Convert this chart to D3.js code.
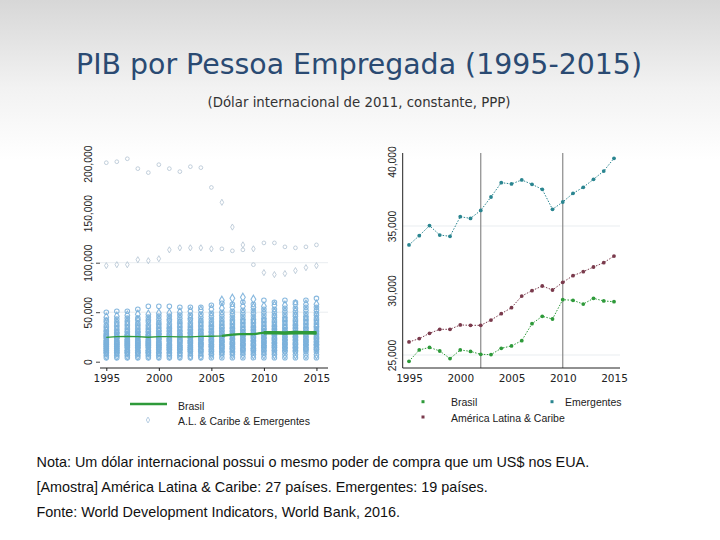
<!DOCTYPE html>
<html><head><meta charset="utf-8">
<script src="https://cdn.jsdelivr.net/npm/d3@7"></script>
<style>html,body{margin:0;padding:0;background:#fff;} svg{display:block;}</style>
</head><body><svg id="c" width="720" height="540"></svg>
<script>
// ---------------- DATA ----------------
const years = [1995,1996,1997,1998,1999,2000,2001,2002,2003,2004,2005,2006,2007,2008,2009,2010,2011,2012,2013,2014,2015];
const xTickYears = [1995,2000,2005,2010,2015];
const brasil = [24510,25390,25590,25310,24720,25390,25280,25050,25030,25520,25700,26110,27430,28000,27790,29290,29240,28950,29390,29190,29130];
const americaLatina = [26010,26270,26680,26990,26990,27330,27300,27300,27710,28200,28670,29570,29990,30350,30040,30630,31150,31460,31820,32160,32670];
const emergentes = [33530,34250,35030,34300,34200,35720,35590,36210,37250,38360,38260,38570,38230,37840,36290,36860,37530,38000,38620,39260,40250];
const leftYTicks = [0,50000,100000,150000,200000];
const rightYTicks = [25000,30000,35000,40000];
const periodLines = [2002, 2010];
// A.L. & Caribe & Emergentes: country values per year (thousands of 2011 PPP $)
const dispersao = [
 [4,6,8,9,10,11,12,13,14,15,16,17,18,19,20,21,22,24,25,26,27,28,30,31,33,35,37,40,42,45,50,97,201],
 [4,6,8,9,10,11,12,13,14,15,16,17,18,19,20,21,23,24,25,26,28,29,30,32,34,36,38,40,43,46,51,98,202],
 [4,6,8,9,10,11,12,14,15,16,17,18,19,20,21,22,23,25,26,27,28,30,31,33,35,37,39,41,44,47,51,98,205],
 [4,6,8,9,10,11,13,14,15,16,17,18,19,20,21,22,24,25,26,27,29,30,31,33,35,37,39,42,44,48,53,103,195],
 [4,6,8,9,10,11,12,14,15,16,17,18,19,20,21,22,24,25,26,27,28,30,31,33,35,37,40,42,45,48,56,102,191],
 [4,6,8,9,10,12,13,14,15,16,17,18,19,20,22,23,24,25,27,28,29,31,32,34,36,38,40,43,46,49,56,104,199],
 [4,6,8,9,11,12,13,14,15,16,17,18,20,21,22,23,24,26,27,28,30,31,33,34,36,38,41,43,46,49,56,113,195],
 [4,6,8,9,11,12,13,14,15,16,17,19,20,21,22,23,25,26,27,28,30,31,33,35,37,39,41,44,47,50,55,115,192],
 [4,6,8,10,11,12,13,14,15,16,18,19,20,21,22,24,25,26,28,29,30,32,33,35,37,39,42,44,47,51,55,115,197],
 [4,6,8,10,11,12,13,15,16,17,18,19,20,22,23,24,25,27,28,29,31,32,34,36,38,40,42,45,48,52,55,115,196],
 [4,7,8,10,11,12,14,15,16,17,18,20,21,22,23,25,26,27,29,30,31,33,35,36,38,40,43,46,49,53,57,114,176],
 [4,7,9,10,11,13,14,15,16,17,19,20,21,22,24,25,26,28,29,31,32,34,35,37,39,41,44,47,50,54,59,62,114,161],
 [4,7,9,10,12,13,14,15,17,18,19,20,22,23,24,26,27,28,30,31,33,34,36,38,40,42,45,48,51,55,58,64,112,136],
 [4,7,9,11,12,13,14,16,17,18,19,21,22,23,25,26,27,29,30,32,33,35,37,39,41,43,46,49,52,56,60,65,113,118],
 [4,7,9,11,12,13,14,16,17,18,20,21,22,24,25,26,28,29,31,32,34,35,37,39,41,43,46,49,52,55,58,63,98,114],
 [4,7,9,11,12,14,15,16,17,19,20,21,23,24,25,27,28,30,31,33,34,36,38,40,42,44,47,50,53,56,62,90,120],
 [4,7,9,11,12,14,15,16,18,19,20,22,23,24,26,27,29,30,32,33,35,36,38,40,42,45,47,50,53,57,60,88,120],
 [4,7,10,11,13,14,15,17,18,19,21,22,23,25,26,28,29,31,32,34,35,37,39,41,43,45,48,51,54,57,62,89,116],
 [4,7,10,11,13,14,15,17,18,19,21,22,24,25,26,28,29,31,33,34,36,37,39,41,43,46,48,51,54,58,60,92,115],
 [4,7,10,12,13,14,16,17,18,20,21,22,24,25,27,28,30,31,33,34,36,38,40,42,44,46,49,52,55,58,62,95,116],
 [4,7,10,12,13,14,16,17,18,20,21,23,24,25,27,28,30,31,33,35,36,38,40,42,44,47,49,52,55,58,64,97,118]
];
const titleText = "PIB por Pessoa Empregada (1995-2015)";
const subtitleText = "(Dólar internacional de 2011, constante, PPP)";
const notes = [
 "Nota: Um dólar internacional possui o mesmo poder de compra que um US$ nos EUA.",
 "[Amostra] América Latina & Caribe: 27 países. Emergentes: 19 países.",
 "Fonte: World Development Indicators, World Bank, 2016."
];

// ---------------- STYLE ----------------
const C_BR = "#2e9a3a", C_ALC = "#7a3a4c", C_EM = "#2a8590", C_SC = "#7ab0da";
const tickFont = "DejaVu Sans";
const svg = d3.select("#c");

// background gradient
const defs = svg.append("defs");
const grad = defs.append("linearGradient").attr("id","bg").attr("x1",0).attr("y1",0).attr("x2",0).attr("y2",1);
grad.append("stop").attr("offset","0%").attr("stop-color","#d7d7d7");
grad.append("stop").attr("offset","55%").attr("stop-color","#f2f2f2");
grad.append("stop").attr("offset","100%").attr("stop-color","#ffffff");
svg.append("rect").attr("width",720).attr("height",540).attr("fill","#fff");
svg.append("rect").attr("width",720).attr("height",160).attr("fill","url(#bg)");

svg.append("text").attr("x",359).attr("y",73.5).attr("text-anchor","middle")
  .attr("font-family","DejaVu Sans").attr("font-size",28.4).attr("fill","#2a4a72").text(titleText);
svg.append("text").attr("x",359).attr("y",107).attr("text-anchor","middle")
  .attr("font-family","DejaVu Sans").attr("font-size",13.3).attr("fill","#333").text(subtitleText);

// ---------------- LEFT PANEL ----------------
const xL = d3.scaleLinear().domain([1994.4, 2016.1]).range([100, 328]);
const yL = d3.scaleLinear().domain([-6364, 210808]).range([368, 153]);
const gL = svg.append("g");

gL.selectAll("line.grid").data([50000,100000]).join("line")
  .attr("x1",100).attr("x2",328).attr("y1",d=>yL(d)).attr("y2",d=>yL(d))
  .attr("stroke","#e9edf0").attr("stroke-width",1);

const scPts = [];
dispersao.forEach((arr,i)=>arr.forEach((v,j)=>scPts.push({year:years[i], v:v*1000, k:j})));
gL.selectAll("path.sc").data(scPts).join("path")
  .attr("transform",d=>`translate(${xL(d.year)},${yL(d.v)})`)
  .attr("d",d=>d3.symbol().type(d.k%2 ? d3.symbolDiamond : d3.symbolCircle).size(d.v>70000 ? 11 : (d.k%2?20:16))())
  .attr("fill","none").attr("stroke",d=>d.v>70000? "#b4c4d2" : C_SC).attr("stroke-width",d=>d.v>70000?0.9:1.1)
  .attr("stroke-opacity",0.9);

const brPts = years.map((y,i)=>({year:y, v:brasil[i]}));
const lineL = d3.line().x(d=>xL(d.year)).y(d=>yL(d.v));
gL.append("path").attr("d",lineL(brPts)).attr("fill","none").attr("stroke",C_BR).attr("stroke-width",1.3);
gL.append("path").attr("d",lineL(brPts.filter(d=>d.year>=2006))).attr("fill","none").attr("stroke",C_BR).attr("stroke-width",2.2);
gL.append("path").attr("d",lineL(brPts.filter(d=>d.year>=2010))).attr("fill","none").attr("stroke",C_BR).attr("stroke-width",3.6);

// axes left
const axL = gL.append("g").attr("transform","translate(0,368)")
  .call(d3.axisBottom(xL).tickValues(xTickYears).tickFormat(d3.format("d")).tickSize(3).tickPadding(4));
axL.select(".domain").attr("d","M100,0H328").attr("stroke","#222");
axL.selectAll(".tick line").attr("stroke","#222");
axL.selectAll("text").attr("font-family",tickFont).attr("font-size",10.5).attr("fill","#222");

const ayL = gL.append("g").attr("transform","translate(100,0)")
  .call(d3.axisLeft(yL).tickValues(leftYTicks).tickFormat(d3.format(",")).tickSize(4).tickPadding(0));
ayL.select(".domain").remove();
ayL.selectAll(".tick line").attr("stroke","#444").attr("x2",-4).attr("opacity",d=>d<=100000?1:0);
ayL.selectAll(".tick text").attr("transform","translate(-8,0) rotate(-90)").attr("text-anchor","middle")
  .attr("x",0).attr("dy","0").attr("font-family","Liberation Sans").attr("font-size",10.3).attr("fill","#222");

// legend left
svg.append("line").attr("x1",130).attr("x2",167).attr("y1",404).attr("y2",404).attr("stroke",C_BR).attr("stroke-width",2.5);
svg.append("path").attr("transform","translate(148,420)").attr("d",d3.symbol().type(d3.symbolDiamond).size(10)())
  .attr("fill","none").attr("stroke","#a7c3dc").attr("stroke-width",0.8);
svg.append("text").attr("x",178).attr("y",409.5).attr("font-family","Liberation Sans").attr("font-size",10.5).attr("fill","#222").text("Brasil");
svg.append("text").attr("x",178).attr("y",424.5).attr("font-family","Liberation Sans").attr("font-size",10.5).attr("fill","#222").text("A.L. & Caribe & Emergentes");

// ---------------- RIGHT PANEL ----------------
const xR = d3.scaleLinear().domain([1994.385, 2015.585]).range([402.7, 620]);
const yR = d3.scaleLinear().domain([23992, 40659]).range([368, 153]);
const gR = svg.append("g");

gR.selectAll("line.grid").data([25000,35000]).join("line")
  .attr("x1",402.7).attr("x2",620).attr("y1",d=>yR(d)).attr("y2",d=>yR(d))
  .attr("stroke","#e9edf0").attr("stroke-width",1);

gR.selectAll("line.vl").data(periodLines).join("line")
  .attr("x1",d=>xR(d)).attr("x2",d=>xR(d)).attr("y1",153).attr("y2",368)
  .attr("stroke","#8a8a8a").attr("stroke-width",1.2);

const series = [
  {vals: emergentes, color: C_EM},
  {vals: americaLatina, color: C_ALC},
  {vals: brasil, color: C_BR}
];
const lineR = d3.line().x(d=>xR(d.year)).y(d=>yR(d.v));
series.forEach(s=>{
  const pts = years.map((y,i)=>({year:y, v:s.vals[i]}));
  gR.append("path").attr("d",lineR(pts)).attr("fill","none").attr("stroke",s.color)
    .attr("stroke-width",1).attr("stroke-dasharray","1.5,1.5");
  gR.selectAll(null).data(pts).join("circle")
    .attr("cx",d=>xR(d.year)).attr("cy",d=>yR(d.v)).attr("r",1.9).attr("fill",s.color);
});

const axR = gR.append("g").attr("transform","translate(0,368)")
  .call(d3.axisBottom(xR).tickValues(xTickYears).tickFormat(d3.format("d")).tickSize(0).tickPadding(7));
axR.select(".domain").attr("d","M402.7,0H620").attr("stroke","#222");
axR.selectAll("text").attr("font-family",tickFont).attr("font-size",10.5).attr("fill","#222");

const ayR = gR.append("g").attr("transform","translate(402.7,0)")
  .call(d3.axisLeft(yR).tickValues(rightYTicks).tickFormat(d3.format(",")).tickSize(0));
ayR.select(".domain").attr("d","M0,153V368").attr("stroke","#222");
ayR.selectAll(".tick text").attr("transform","translate(-7,0) rotate(-90)").attr("text-anchor","middle")
  .attr("x",0).attr("dy","0").attr("font-family","Liberation Sans").attr("font-size",10.3).attr("fill","#222");

// legend right
const legR = [
  {x:423, y:401.7, c:C_BR, t:"Brasil", tx:451, ty:406},
  {x:552, y:401.7, c:C_EM, t:"Emergentes", tx:565, ty:406},
  {x:423, y:417, c:C_ALC, t:"América Latina & Caribe", tx:451, ty:421.5}
];
legR.forEach(l=>{
  svg.append("rect").attr("x",l.x-1.5).attr("y",l.y-1.5).attr("width",3).attr("height",3).attr("fill",l.c);
  svg.append("text").attr("x",l.tx).attr("y",l.ty).attr("font-family","Liberation Sans").attr("font-size",10.5).attr("fill","#222").text(l.t);
});

// ---------------- NOTES ----------------
svg.selectAll("text.note").data(notes).join("text").attr("class","note")
  .attr("x",36.5).attr("y",(d,i)=>466.5+i*25).attr("font-family","Liberation Sans")
  .attr("font-size",14.4).attr("fill","#111").text(d=>d);
</script></body></html>
